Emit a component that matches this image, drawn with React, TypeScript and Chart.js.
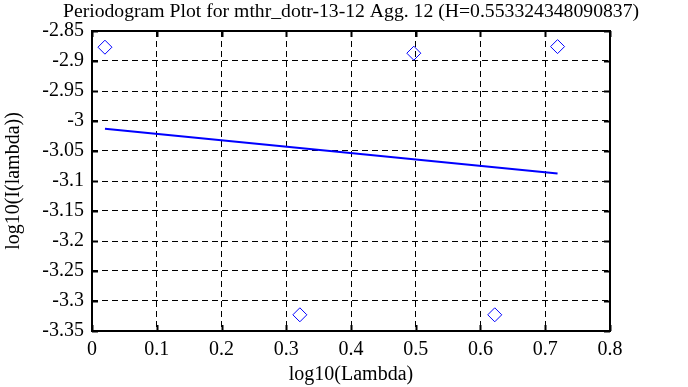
import React, { useEffect, useRef } from "react";
import { Chart, registerables } from "chart.js";

Chart.register(...registerables);

const TITLE = "Periodogram Plot for mthr_dotr-13-12 Agg. 12 (H=0.553324348090837)";
const X_TITLE = "log10(Lambda)";
const Y_TITLE = "log10(I(lambda))";

const pointX = [0.02, 0.321, 0.497, 0.622, 0.719];
const pointY = [-2.877, -3.323, -2.887, -3.323, -2.876];

const fitX = [0.02, 0.719];
const fitY = [-3.013, -3.0875];

const xTicks = [0, 0.1, 0.2, 0.3, 0.4, 0.5, 0.6, 0.7, 0.8];
const yTicks = [-3.35, -3.3, -3.25, -3.2, -3.15, -3.1, -3.05, -3, -2.95, -2.9, -2.85];

const FONT = "'Liberation Serif', 'Times New Roman', serif";

const framePlugin = {
  id: "frameAndTitle",
  afterDraw(chart: any) {
    const { ctx, chartArea } = chart;
    const { left, right, top, bottom } = chartArea;
    ctx.save();
    ctx.strokeStyle = "#000";
    ctx.lineWidth = 2;
    ctx.setLineDash([]);
    ctx.strokeRect(left, top, right - left, bottom - top);
    // inner tick marks
    const xs = chart.scales.x;
    const ys = chart.scales.y;
    ctx.beginPath();
    xTicks.forEach((v) => {
      const px = Math.round(xs.getPixelForValue(v)) + 0.5;
      ctx.moveTo(px, bottom);
      ctx.lineTo(px, bottom - 6);
      ctx.moveTo(px, top);
      ctx.lineTo(px, top + 6);
    });
    yTicks.forEach((v) => {
      const py = Math.round(ys.getPixelForValue(v)) + 0.5;
      ctx.moveTo(left, py);
      ctx.lineTo(left + 6, py);
      ctx.moveTo(right, py);
      ctx.lineTo(right - 6, py);
    });
    ctx.stroke();
    // title
    ctx.fillStyle = "#000";
    ctx.font = `19.7px ${FONT}`;
    ctx.textAlign = "center";
    ctx.textBaseline = "middle";
    ctx.fillText(TITLE, (left + right) / 2, 12);
    ctx.restore();
  },
};

const fmt = (v: number) => String(parseFloat(Number(v).toFixed(2)));

export default function App() {
  const ref = useRef<HTMLCanvasElement | null>(null);
  useEffect(() => {
    document.body.style.margin = "0";
    const canvas = ref.current!;
    const chart = new Chart(canvas, {
      type: "scatter",
      data: {
        datasets: [
          {
            type: "line",
            data: fitX.map((x, i) => ({ x, y: fitY[i] })),
            borderColor: "#0000ff",
            borderWidth: 2,
            pointRadius: 0,
            fill: false,
            tension: 0,
          } as any,
          {
            data: pointX.map((x, i) => ({ x, y: pointY[i] })),
            pointStyle: "rectRot",
            pointRadius: 7,
            pointBorderColor: "#0000ff",
            pointBackgroundColor: "rgba(0,0,0,0)",
            pointBorderWidth: 1,
            showLine: false,
          },
        ],
      },
      options: {
        animation: false,
        responsive: false,
        devicePixelRatio: 1,
        layout: { padding: { top: 31, left: 0, right: 78, bottom: 0 } },
        plugins: {
          legend: { display: false },
          tooltip: { enabled: false },
          title: { display: false },
        },
        scales: {
          x: {
            type: "linear",
            min: 0,
            max: 0.8,
            afterFit(scale: any) {
              scale.height = 56;
            },
            afterBuildTicks(scale: any) {
              scale.ticks = xTicks.map((v) => ({ value: v }));
            },
            ticks: {
              color: "#000",
              font: { family: FONT, size: 20 },
              padding: 7,
              maxRotation: 0,
              autoSkip: false,
              callback: (v: any) => fmt(v),
            },
            grid: { color: "#000", lineWidth: 1, drawTicks: false },
            border: { display: false, dash: [6, 4] },
            title: {
              display: true,
              text: X_TITLE,
              color: "#000",
              font: { family: FONT, size: 20 },
              padding: { top: 0, bottom: 0 },
            },
          },
          y: {
            type: "linear",
            min: -3.35,
            max: -2.85,
            afterFit(scale: any) {
              scale.width = 92;
            },
            afterBuildTicks(scale: any) {
              scale.ticks = yTicks.map((v) => ({ value: v }));
            },
            ticks: {
              color: "#000",
              font: { family: FONT, size: 20 },
              padding: 8,
              autoSkip: false,
              callback: (v: any) => fmt(v),
            },
            grid: { color: "#000", lineWidth: 1, drawTicks: false },
            border: { display: false, dash: [6, 4] },
            title: {
              display: true,
              text: Y_TITLE,
              color: "#000",
              font: { family: FONT, size: 20 },
              padding: { top: 2, bottom: 0 },
            },
          },
        },
      },
      plugins: [framePlugin],
    });
    return () => chart.destroy();
  }, []);
  return (
    <div style={{ position: "absolute", left: 0, top: 0, width: 688, height: 387 }}>
      <canvas ref={ref} width={688} height={387} style={{ width: 688, height: 387 }} />
    </div>
  );
}
